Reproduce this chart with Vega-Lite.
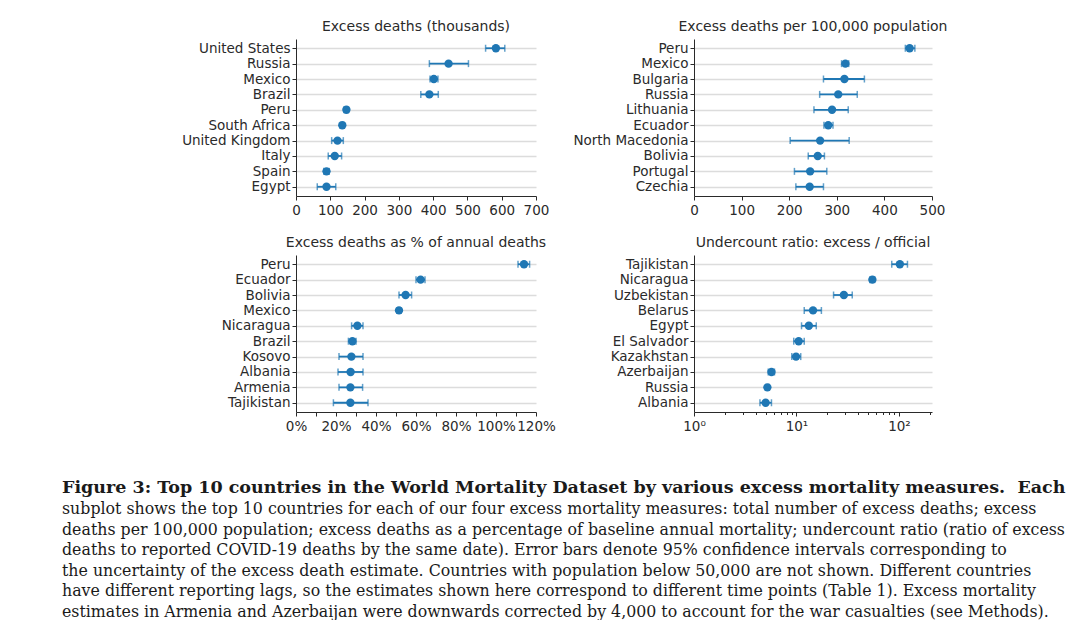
{
  "$schema": "https://vega.github.io/schema/vega-lite/v6.json",
  "padding": {"left": 62, "top": 20, "right": 0, "bottom": 0},
  "background": "white",
  "title": {
    "text": "Figure 3: Top 10 countries in the World Mortality Dataset by various excess mortality measures.\u00a0\u00a0Each",
    "subtitle": [
      "subplot shows the top 10 countries for each of our four excess mortality measures: total number of excess deaths; excess",
      "deaths per 100,000 population; excess deaths as a percentage of baseline annual mortality; undercount ratio (ratio of excess",
      "deaths to reported COVID-19 deaths by the same date).  Error bars denote 95% confidence intervals corresponding to",
      "the uncertainty of the excess death estimate. Countries with population below 50,000 are not shown. Different countries",
      "have different reporting lags, so the estimates shown here correspond to different time points (Table 1). Excess mortality",
      "estimates in Armenia and Azerbaijan were downwards corrected by 4,000 to account for the war casualties (see Methods)."
    ],
    "orient": "bottom",
    "anchor": "start",
    "frame": "bounds",
    "offset": 46,
    "font": "DejaVu Serif",
    "fontSize": 17.5,
    "fontWeight": "bold",
    "color": "#1a1a1a",
    "subtitleFont": "DejaVu Serif",
    "subtitleFontSize": 15.8,
    "subtitleColor": "#1a1a1a",
    "subtitleLineHeight": 20.5,
    "subtitlePadding": 6
  },
  "datasets": {
    "measures": [
      {"panel": "p1", "country": "United States", "v": 583, "lo": 553, "hi": 609},
      {"panel": "p1", "country": "Russia", "v": 445, "lo": 389, "hi": 503},
      {"panel": "p1", "country": "Mexico", "v": 402, "lo": 391, "hi": 414},
      {"panel": "p1", "country": "Brazil", "v": 389, "lo": 364, "hi": 415},
      {"panel": "p1", "country": "Peru", "v": 147, "lo": 140, "hi": 153},
      {"panel": "p1", "country": "South Africa", "v": 135, "lo": 129, "hi": 141},
      {"panel": "p1", "country": "United Kingdom", "v": 121, "lo": 104, "hi": 138},
      {"panel": "p1", "country": "Italy", "v": 113, "lo": 94, "hi": 133},
      {"panel": "p1", "country": "Spain", "v": 89, "lo": 81, "hi": 97},
      {"panel": "p1", "country": "Egypt", "v": 89, "lo": 62, "hi": 116},
      {"panel": "p2", "country": "Peru", "v": 453, "lo": 444, "hi": 464},
      {"panel": "p2", "country": "Mexico", "v": 318, "lo": 310, "hi": 325},
      {"panel": "p2", "country": "Bulgaria", "v": 316, "lo": 272, "hi": 358},
      {"panel": "p2", "country": "Russia", "v": 303, "lo": 264, "hi": 343},
      {"panel": "p2", "country": "Lithuania", "v": 290, "lo": 252, "hi": 324},
      {"panel": "p2", "country": "Ecuador", "v": 282, "lo": 273, "hi": 292},
      {"panel": "p2", "country": "North Macedonia", "v": 265, "lo": 202, "hi": 326},
      {"panel": "p2", "country": "Bolivia", "v": 260, "lo": 240, "hi": 274},
      {"panel": "p2", "country": "Portugal", "v": 244, "lo": 211, "hi": 279},
      {"panel": "p2", "country": "Czechia", "v": 243, "lo": 214, "hi": 272},
      {"panel": "p3", "country": "Peru", "v": 1.14, "lo": 1.11, "hi": 1.168},
      {"panel": "p3", "country": "Ecuador", "v": 0.623, "lo": 0.6, "hi": 0.645},
      {"panel": "p3", "country": "Bolivia", "v": 0.548, "lo": 0.515, "hi": 0.578},
      {"panel": "p3", "country": "Mexico", "v": 0.515, "lo": 0.505, "hi": 0.525},
      {"panel": "p3", "country": "Nicaragua", "v": 0.307, "lo": 0.278, "hi": 0.335},
      {"panel": "p3", "country": "Brazil", "v": 0.282, "lo": 0.262, "hi": 0.3},
      {"panel": "p3", "country": "Kosovo", "v": 0.277, "lo": 0.215, "hi": 0.335},
      {"panel": "p3", "country": "Albania", "v": 0.273, "lo": 0.21, "hi": 0.335},
      {"panel": "p3", "country": "Armenia", "v": 0.272, "lo": 0.215, "hi": 0.333},
      {"panel": "p3", "country": "Tajikistan", "v": 0.272, "lo": 0.187, "hi": 0.36},
      {"panel": "p4", "country": "Tajikistan", "v": 102, "lo": 85, "hi": 121},
      {"panel": "p4", "country": "Nicaragua", "v": 55, "lo": 52, "hi": 58},
      {"panel": "p4", "country": "Uzbekistan", "v": 29, "lo": 23, "hi": 35},
      {"panel": "p4", "country": "Belarus", "v": 14.5, "lo": 11.9, "hi": 17.5},
      {"panel": "p4", "country": "Egypt", "v": 13.2, "lo": 11.2, "hi": 15.6},
      {"panel": "p4", "country": "El Salvador", "v": 10.5, "lo": 9.4, "hi": 11.9},
      {"panel": "p4", "country": "Kazakhstan", "v": 9.9, "lo": 9.0, "hi": 11.0},
      {"panel": "p4", "country": "Azerbaijan", "v": 5.7, "lo": 5.3, "hi": 6.1},
      {"panel": "p4", "country": "Russia", "v": 5.2, "lo": 5.0, "hi": 5.4},
      {"panel": "p4", "country": "Albania", "v": 5.0, "lo": 4.4, "hi": 5.7}
    ]
  },
  "columns": 2,
  "align": "each",
  "spacing": {"row": 19, "column": 8},
  "concat": [
    {
      "title": "Excess deaths (thousands)",
      "width": 240, "height": 157,
      "data": {"name": "measures"},
      "transform": [{"filter": "datum.panel == 'p1'"}],
      "layer": [
        {
          "mark": {"type": "errorbar", "ticks": {"size": 7, "thickness": 1.5}, "thickness": 1.8, "color": "#1f77b4"},
          "encoding": {
            "y": {"field": "country", "type": "nominal", "sort": null, "title": null, "scale": {"type": "point", "padding": 0.6}, "axis": {"minExtent": 234, "maxExtent": 234}},
            "x": {"field": "lo", "type": "quantitative", "title": null, "scale": {"domain": [0, 700], "nice": false}, "axis": {"values": [0, 100, 200, 300, 400, 500, 600, 700], "labelOverlap": false, "labelFlush": false}},
            "x2": {"field": "hi"}
          }
        },
        {
          "mark": {"type": "point", "filled": true, "size": 70, "opacity": 1, "color": "#1f77b4"},
          "encoding": {
            "y": {"field": "country", "type": "nominal", "sort": null, "title": null},
            "x": {"field": "v", "type": "quantitative", "title": null, "axis": {"values": [0, 100, 200, 300, 400, 500, 600, 700], "labelOverlap": false, "labelFlush": false}}
          }
        }
      ]
    },
    {
      "title": "Excess deaths per 100,000 population",
      "width": 238, "height": 157,
      "data": {"name": "measures"},
      "transform": [{"filter": "datum.panel == 'p2'"}],
      "layer": [
        {
          "mark": {"type": "errorbar", "ticks": {"size": 7, "thickness": 1.5}, "thickness": 1.8, "color": "#1f77b4"},
          "encoding": {
            "y": {"field": "country", "type": "nominal", "sort": null, "title": null, "scale": {"type": "point", "padding": 0.6}, "axis": {"minExtent": 130, "maxExtent": 130}},
            "x": {"field": "lo", "type": "quantitative", "title": null, "scale": {"domain": [0, 500], "nice": false}, "axis": {"values": [0, 100, 200, 300, 400, 500], "labelOverlap": false, "labelFlush": false}},
            "x2": {"field": "hi"}
          }
        },
        {
          "mark": {"type": "point", "filled": true, "size": 70, "opacity": 1, "color": "#1f77b4"},
          "encoding": {
            "y": {"field": "country", "type": "nominal", "sort": null, "title": null},
            "x": {"field": "v", "type": "quantitative", "title": null, "axis": {"values": [0, 100, 200, 300, 400, 500], "labelOverlap": false, "labelFlush": false}}
          }
        }
      ]
    },
    {
      "title": "Excess deaths as % of annual deaths",
      "width": 240, "height": 157,
      "data": {"name": "measures"},
      "transform": [{"filter": "datum.panel == 'p3'"}],
      "layer": [
        {
          "mark": {"type": "errorbar", "ticks": {"size": 7, "thickness": 1.5}, "thickness": 1.8, "color": "#1f77b4"},
          "encoding": {
            "y": {"field": "country", "type": "nominal", "sort": null, "title": null, "scale": {"type": "point", "padding": 0.6}, "axis": {"minExtent": 234, "maxExtent": 234}},
            "x": {"field": "lo", "type": "quantitative", "title": null, "scale": {"domain": [0, 1.2], "nice": false}, "axis": {"values": [0, 0.1, 0.2, 0.3, 0.4, 0.5, 0.6, 0.7, 0.8, 0.9, 1.0, 1.1, 1.2], "labelOverlap": false, "labelFlush": false, "labelExpr": "round(datum.value * 100) % 20 == 0 ? format(datum.value, '.0%') : ''"}},
            "x2": {"field": "hi"}
          }
        },
        {
          "mark": {"type": "point", "filled": true, "size": 70, "opacity": 1, "color": "#1f77b4"},
          "encoding": {
            "y": {"field": "country", "type": "nominal", "sort": null, "title": null},
            "x": {"field": "v", "type": "quantitative", "title": null, "axis": {"values": [0, 0.1, 0.2, 0.3, 0.4, 0.5, 0.6, 0.7, 0.8, 0.9, 1.0, 1.1, 1.2], "labelOverlap": false, "labelFlush": false, "labelExpr": "round(datum.value * 100) % 20 == 0 ? format(datum.value, '.0%') : ''"}}
          }
        }
      ]
    },
    {
      "title": "Undercount ratio: excess / official",
      "width": 238, "height": 157,
      "data": {"name": "measures"},
      "transform": [{"filter": "datum.panel == 'p4'"}],
      "resolve": {"axis": {"x": "independent"}},
      "layer": [
        {
          "mark": {"type": "errorbar", "ticks": {"size": 7, "thickness": 1.5}, "thickness": 1.8, "color": "#1f77b4"},
          "encoding": {
            "y": {"field": "country", "type": "nominal", "sort": null, "title": null, "scale": {"type": "point", "padding": 0.6}, "axis": {"minExtent": 130, "maxExtent": 130}},
            "x": {"field": "lo", "type": "quantitative", "title": null, "scale": {"type": "log", "domain": [1, 210], "nice": false}, "axis": {"orient": "bottom", "values": [2, 3, 4, 5, 6, 7, 8, 9, 20, 30, 40, 50, 60, 70, 80, 90, 200], "labels": false, "tickSize": 2.5, "domain": false}},
            "x2": {"field": "hi"}
          }
        },
        {
          "mark": {"type": "point", "filled": true, "size": 70, "opacity": 1, "color": "#1f77b4"},
          "encoding": {
            "y": {"field": "country", "type": "nominal", "sort": null, "title": null},
            "x": {"field": "v", "type": "quantitative", "title": null, "axis": {"orient": "bottom", "values": [1, 10, 100], "labelOverlap": false, "labelFlush": false, "labelExpr": "datum.value == 1 ? '10⁰' : datum.value == 10 ? '10¹' : '10²'"}}
          }
        }
      ]
    }
  ],
  "config": {
    "view": {"stroke": null},
    "font": "DejaVu Sans",
    "axis": {"labelFont": "DejaVu Sans", "labelFontSize": 13.5, "labelColor": "#2a2a2a", "domainColor": "#2a2a2a", "tickColor": "#2a2a2a", "tickSize": 4, "labelPadding": 2, "domainWidth": 1, "tickWidth": 1, "labelOverlap": false, "labelFlush": false},
    "axisY": {"grid": true, "gridColor": "#dcdcdc", "gridWidth": 1.5},
    "axisX": {"grid": false, "labelPadding": 3},
    "title": {"fontSize": 14, "fontWeight": "normal", "color": "#2a2a2a", "offset": 5, "anchor": "middle", "frame": "group", "font": "DejaVu Sans"}
  }
}
